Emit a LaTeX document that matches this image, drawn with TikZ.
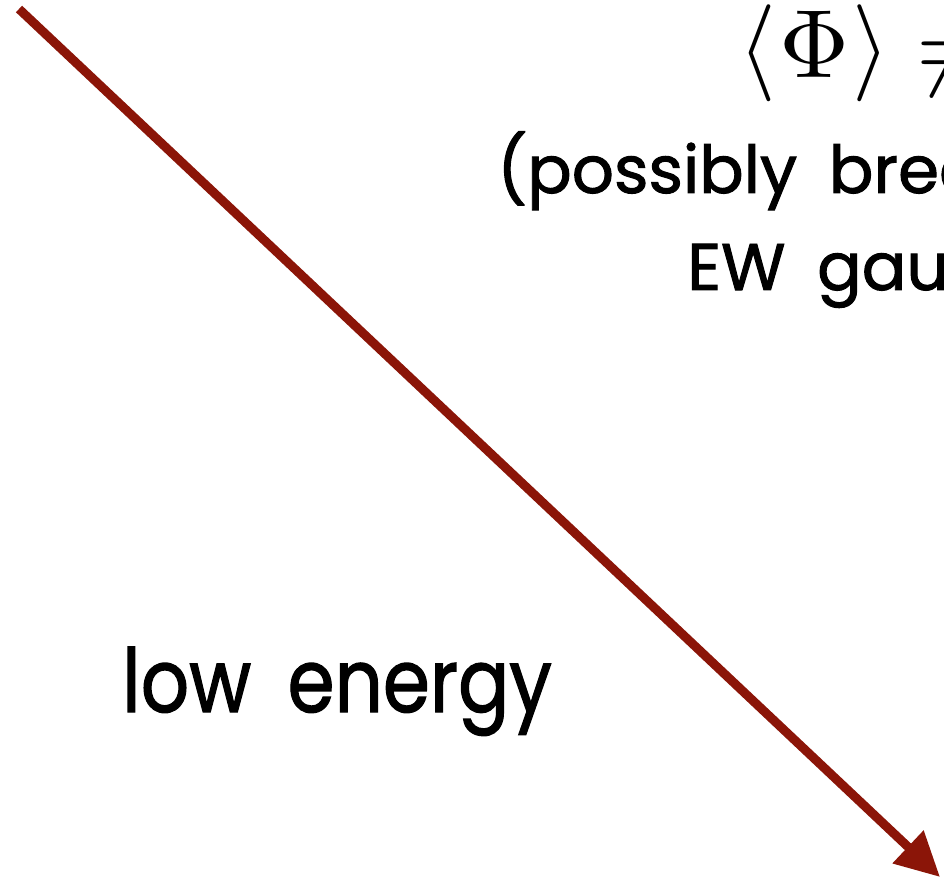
\documentclass[tikz,border=0pt]{standalone}
\usepackage{fontspec}
\setmainfont{Poppins}
\newfontfamily\handfont{Poppins}[FakeBold=1.5]
\newfontfamily\handfontwide{Poppins}[FakeBold=1.5, WordSpace=1.8]
\usetikzlibrary{arrows.meta}
\definecolor{arrowred}{RGB}{139,21,8}

\begin{document}
\begin{tikzpicture}[x=1pt, y=-1pt,
    flow/.style = {-{Triangle[length=44pt, width=43pt]}, line width=9pt, arrowred},
    % testo delle etichette
    big label/.style = {anchor=base west, inner sep=0pt, xscale=0.86, font=\handfont\fontsize{88}{100}\selectfont},
    small label/.style = {anchor=base west, inner sep=0pt, font=\handfontwide\fontsize{66}{78}\selectfont},
    math label/.style = {anchor=base west, inner sep=0pt, scale=9.7}
    ]

    \useasboundingbox (0,0) rectangle (944,882);

    % --- Freccia ---
    \coordinate (high) at (19,9);
    \coordinate (low) at (940,877);
    \draw[flow] (high) -- (low);

    % --- Etichette ---
    \node[math label] (vev) at (737,78) {$\langle\mkern0.5mu\Phi\mkern0.5mu\rangle\neq 0$};
    \node[small label] (maybe) at (497,193) {(possibly breaking};
    \node[small label] (gauge) at (687,290) {EW gauge};
    \node[big label] (low energy) at (122,712) {low energy};

\end{tikzpicture}
\end{document}
